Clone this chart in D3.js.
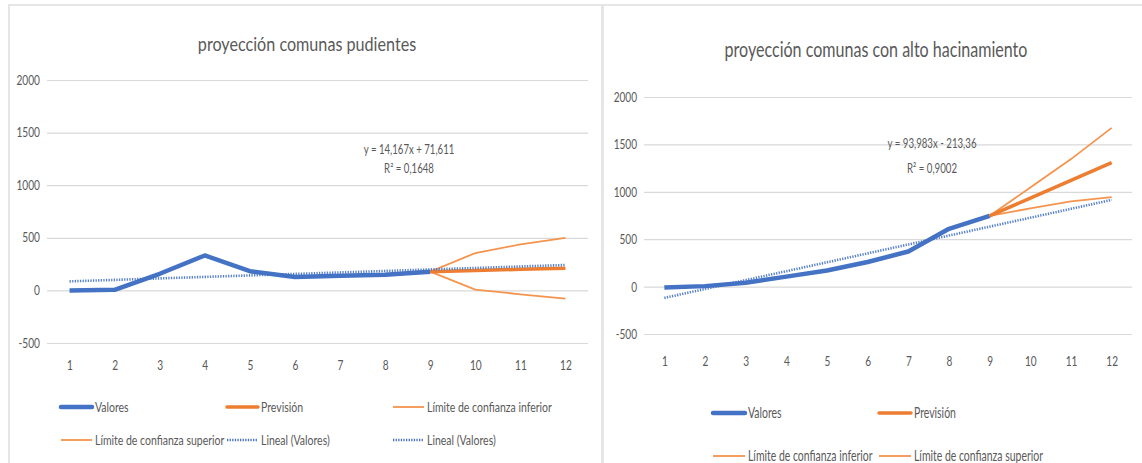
<!DOCTYPE html>
<html>
<head>
<meta charset="utf-8">
<script src="https://cdn.jsdelivr.net/npm/d3@7"></script>
<style>
  html, body { margin: 0; padding: 0; background: #fff; }
  svg { display: block; }
  text { font-family: Lato, "Open Sans", sans-serif; fill: #595959; }
</style>
</head>
<body>
<svg id="chart" width="1142" height="463"></svg>
<script>
// Periods shared by both panels
const periods = [1, 2, 3, 4, 5, 6, 7, 8, 9, 10, 11, 12];
const yTicks = [-500, 0, 500, 1000, 1500, 2000];

// Comunas pudientes: observed values (periods 1-9) and forecast (9-12)
const richValores   = [0, 6, 158, 332, 183, 127, 139, 149, 178];
const richPrevision = [178, 190, 200, 211];
const richInferior  = [178, 8, -37, -78];
const richSuperior  = [178, 355, 437, 500];
const richTrend = { slope: 14.167, intercept: 71.611 };
const richEq = ["y = 14,167x + 71,611", "R² = 0,1648"];

// Comunas con alto hacinamiento
const crowdValores   = [-10, 5, 40, 105, 170, 260, 370, 610, 747];
const crowdPrevision = [747, 933, 1120, 1308];
const crowdInferior  = [747, 825, 900, 944];
const crowdSuperior  = [747, 1045, 1345, 1674];
const crowdTrend = { slope: 93.983, intercept: -213.36 };
const crowdEq = ["y = 93,983x - 213,36", "R² = 0,9002"];

const BLUE = "#4472C4", ORANGE = "#ED7D31", ORANGE_LIGHT = "#F4944E", GRID = "#d9d9d9";

const svg = d3.select("#chart");

// horizontally condense text (narrow face look)
function squeeze(sel, k) {
  sel.each(function () {
    const t = d3.select(this);
    const x = +t.attr("x") || 0, y = +t.attr("y") || 0;
    t.attr("transform", `translate(${x},${y}) scale(${k},1)`).attr("x", 0).attr("y", 0);
  });
}

// panel frames
svg.append("line").attr("x1", 8).attr("x2", 1142).attr("y1", 5).attr("y2", 5)
  .attr("stroke", "#e6e6e6").attr("stroke-width", 2);
svg.append("line").attr("x1", 9).attr("x2", 9).attr("y1", 5).attr("y2", 463)
  .attr("stroke", "#e6e6e6").attr("stroke-width", 2);
svg.append("line").attr("x1", 602.5).attr("x2", 602.5).attr("y1", 5).attr("y2", 463)
  .attr("stroke", "#e6e6e6").attr("stroke-width", 3);

function drawPanel(p) {
  const g = svg.append("g");
  const x = d3.scalePoint().domain(periods).range([p.left, p.right]).padding(0.5);
  const y = d3.scaleLinear().domain([-500, 2000]).range([p.bottom, p.top]);

  // title
  g.append("text").attr("x", p.titleX).attr("y", p.titleY)
    .attr("text-anchor", "middle").style("font-size", p.titleSize + "px").text(p.title)
    .call(squeeze, p.titleK);

  // horizontal gridlines + value labels
  const yAxis = d3.axisLeft(y).tickValues(yTicks).tickFormat(d => String(d))
    .tickSize(-(p.right - p.left)).tickPadding(0);
  const ya = g.append("g").attr("transform", `translate(${p.left},0)`).call(yAxis);
  ya.select(".domain").remove();
  ya.selectAll(".tick line").attr("stroke", GRID).attr("stroke-width", 1.2);
  ya.selectAll(".tick text").style("font-size", p.labelSize + "px").attr("fill", "#595959")
    .attr("x", -p.tickPad).call(squeeze, p.k);

  // category labels
  const xAxis = d3.axisBottom(x).tickSize(0).tickPadding(0);
  const xa = g.append("g").attr("transform", `translate(0,${p.xLabelY})`).call(xAxis);
  xa.select(".domain").remove();
  xa.selectAll(".tick text").style("font-size", p.labelSize + "px").attr("fill", "#595959")
    .call(squeeze, p.k);

  const line = d3.line().x(d => x(d[0])).y(d => y(d[1]));
  const obs = p.valores.map((v, i) => [periods[i], v]);
  const fc = arr => arr.map((v, i) => [periods[8 + i], v]);
  const trend = periods.map(t => [t, p.trend.slope * t + p.trend.intercept]);

  // series
  g.append("path").datum(obs).attr("d", line).attr("fill", "none")
    .attr("stroke", BLUE).attr("stroke-width", 4.5).attr("stroke-linejoin", "round");
  g.append("path").datum(fc(p.inferior)).attr("d", line).attr("fill", "none")
    .attr("stroke", ORANGE_LIGHT).attr("stroke-width", 1.8);
  g.append("path").datum(fc(p.superior)).attr("d", line).attr("fill", "none")
    .attr("stroke", ORANGE_LIGHT).attr("stroke-width", 1.8);
  g.append("path").datum(fc(p.prevision)).attr("d", line).attr("fill", "none")
    .attr("stroke", ORANGE).attr("stroke-width", 3.5);
  g.append("path").datum(trend).attr("d", line).attr("fill", "none")
    .attr("stroke", BLUE).attr("stroke-width", 2.6).attr("stroke-dasharray", "1.3 1.3").attr("opacity", 0.9);

  // trendline equation
  p.eq.forEach((t, i) => {
    g.append("text").attr("x", p.eqX).attr("y", p.eqY + i * p.eqGap)
      .attr("text-anchor", "middle").style("font-size", p.eqSize + "px").text(t)
      .call(squeeze, p.eqK);
  });

  // legend
  p.legend.forEach(it => {
    const lg = g.append("g").attr("transform", `translate(${it.x},${it.y})`);
    const ln = lg.append("line").attr("x1", 0).attr("x2", p.swatch).attr("y1", 0).attr("y2", 0);
    if (it.kind === "obs") ln.attr("stroke", BLUE).attr("stroke-width", 4.5).attr("stroke-linecap", "round");
    if (it.kind === "fc") ln.attr("stroke", ORANGE).attr("stroke-width", 3.5).attr("stroke-linecap", "round");
    if (it.kind === "ci") ln.attr("stroke", ORANGE_LIGHT).attr("stroke-width", 1.8);
    if (it.kind === "trend") ln.attr("stroke", BLUE).attr("stroke-width", 2.6).attr("stroke-dasharray", "1.3 1.3");
    lg.append("text").attr("x", p.swatch + 3).attr("y", 0).attr("dy", "0.35em")
      .style("font-size", p.legendSize + "px").text(it.label)
      .call(squeeze, p.legendK);
  });
}

drawPanel({
  title: "proyección comunas pudientes", titleX: 307, titleY: 51, titleSize: 19, titleK: 0.85, k: 0.78,
  left: 47, right: 588, top: 80, bottom: 343, xLabelY: 361, tickPad: 7,
  labelSize: 13, valores: richValores, prevision: richPrevision,
  inferior: richInferior, superior: richSuperior, trend: richTrend,
  eq: richEq, eqX: 409, eqY: 154, eqGap: 19, eqSize: 13, eqK: 0.74,
  swatch: 31, legendSize: 14, legendK: 0.75,
  legend: [
    { x: 61, y: 407, kind: "obs", label: "Valores" },
    { x: 227, y: 407, kind: "fc", label: "Previsión" },
    { x: 393, y: 407, kind: "ci", label: "Límite de confianza inferior" },
    { x: 61, y: 440, kind: "ci", label: "Límite de confianza superior" },
    { x: 227, y: 440, kind: "trend", label: "Lineal (Valores)" },
    { x: 393, y: 440, kind: "trend", label: "Lineal (Valores)" }
  ]
});

drawPanel({
  title: "proyección comunas con alto hacinamiento", titleX: 876, titleY: 57, titleSize: 22, titleK: 0.73, k: 0.72,
  left: 644, right: 1132, top: 97, bottom: 334, xLabelY: 356, tickPad: 7,
  labelSize: 14, valores: crowdValores, prevision: crowdPrevision,
  inferior: crowdInferior, superior: crowdSuperior, trend: crowdTrend,
  eq: crowdEq, eqX: 932, eqY: 148, eqGap: 25, eqSize: 14, eqK: 0.69,
  swatch: 32, legendSize: 15.5, legendK: 0.675,
  legend: [
    { x: 713, y: 413, kind: "obs", label: "Valores" },
    { x: 879, y: 413, kind: "fc", label: "Previsión" },
    { x: 713, y: 456, kind: "ci", label: "Límite de confianza inferior" },
    { x: 879, y: 456, kind: "ci", label: "Límite de confianza superior" }
  ]
});
</script>
</body>
</html>
